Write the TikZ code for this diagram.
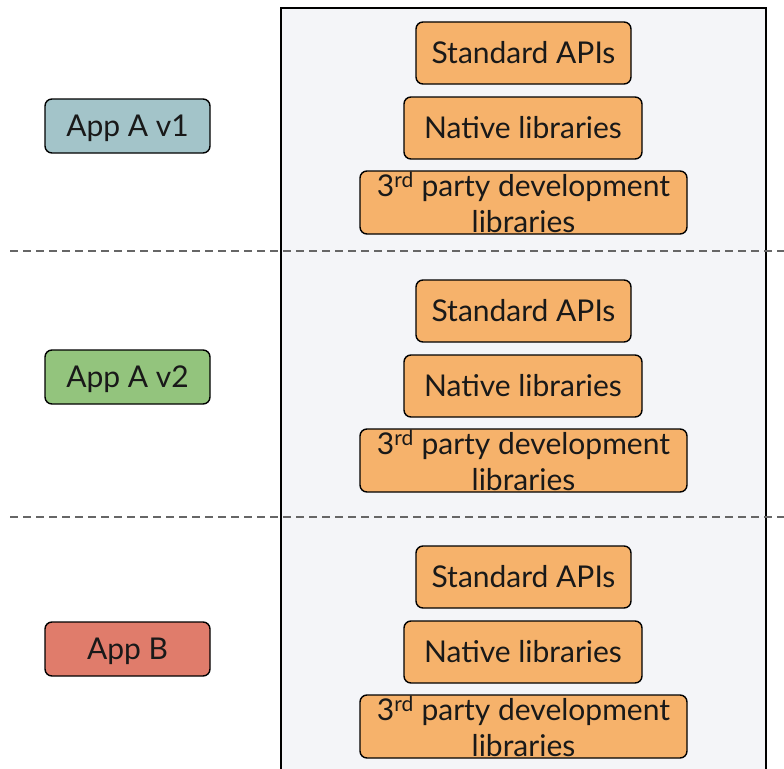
\documentclass[tikz,border=0pt]{standalone}
\usepackage{fontspec}
\setmainfont{Lato}
\definecolor{panelbg}{HTML}{F4F5F8}
\definecolor{libfill}{HTML}{F6B26B}
\definecolor{appone}{HTML}{A3C4C9}
\definecolor{apptwo}{HTML}{93C47D}
\definecolor{appthree}{HTML}{E07C6B}
\definecolor{sepgray}{HTML}{666666}
\tikzset{
  rbox/.style={draw=black, line width=1.4pt, rounded corners=7pt, inner sep=0pt,
    align=center, font=\fontsize{30}{36}\selectfont, text=black!90},
  libbox/.style={rbox, fill=libfill},
  appbox/.style={rbox, minimum width=165pt, minimum height=54pt,
    text height=21.5pt, text depth=0pt},
  sepline/.style={draw=sepgray, line width=1.2pt, dash pattern=on 8pt off 5pt}
}
\begin{document}
\begin{tikzpicture}[x=1pt, y=-1pt]
  \useasboundingbox (0,0) rectangle (784,768);
  % platform panel
  \draw[fill=panelbg, line width=1.6pt] (281,8) rectangle (766,790);
  % separators between the three apps
  \coordinate (s1a) at (10,251);  \coordinate (s1b) at (784,251);
  \coordinate (s2a) at (10,517);  \coordinate (s2b) at (784,517);
  \draw[sepline] (s1a) -- (s1b);
  \draw[sepline] (s2a) -- (s2b);
  % applications
  \node[appbox, fill=appone]   (appv1) at (127.5,126) {App A v1};
  \node[appbox, fill=apptwo]   (appv2) at (127.5,377) {App A v2};
  \node[appbox, fill=appthree] (appb)  at (127.5,649) {App B};
  % library stacks
  \foreach \dy/\k in {0/1, 258/2, 524/3} {
    \node[libbox, minimum width=215pt, minimum height=62pt] (std\k) at (523.5,53+\dy) {Standard APIs};
    \node[libbox, minimum width=238pt, minimum height=62pt] (nat\k) at (523,128+\dy) {Native libraries};
    \node[libbox, minimum width=327pt, minimum height=63pt] (thr\k) at (523.5,202.5+\dy)
      {3\textsuperscript{rd} party development\\libraries};
  }
\end{tikzpicture}
\end{document}
